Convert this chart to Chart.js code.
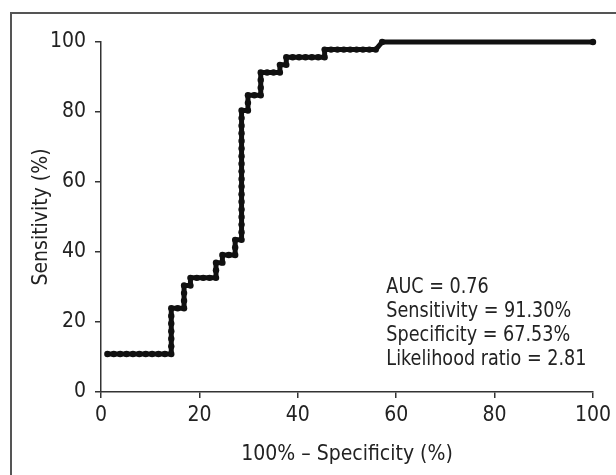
<!DOCTYPE html>
<html>
<head>
<meta charset="utf-8">
<script src="https://cdn.jsdelivr.net/npm/chart.js@4.4.1/dist/chart.umd.min.js"></script>
<style>
  html, body { margin: 0; padding: 0; background: #fff; }
  #wrap { width: 616px; height: 475px; }
</style>
</head>
<body>
<div id="wrap"><canvas id="chart" width="616" height="475"></canvas></div>
<script>
// ROC curve, as counts of false / true positives
var nNegative = 77;
var nPositive = 46;
var falsePos = [1, 2, 3, 4, 5, 6, 7, 8, 9, 10, 11,
    11, 11, 11, 11, 11, 11,
    12, 13, 13, 13, 13,
    14, 14,
    15, 16, 17, 18, 18, 18,
    19, 19, 20, 21, 21, 21,
    22, 22, 22, 22, 22, 22, 22, 22, 22, 22, 22, 22, 22, 22, 22, 22, 22, 22,
    23, 23, 23, 24, 25, 25, 25, 25,
    26, 27, 28, 28, 29, 29,
    30, 31, 32, 33, 34, 35, 35,
    36, 37, 38, 39, 40, 41, 42, 43,
    44, 77];
var truePos = [5, 5, 5, 5, 5, 5, 5, 5, 5, 5, 5,
    6, 7, 8, 9, 10, 11,
    11, 11, 12, 13, 14,
    14, 15,
    15, 15, 15, 15, 16, 17,
    17, 18, 18, 18, 19, 20,
    20, 21, 22, 23, 24, 25, 26, 27, 28, 29, 30, 31, 32, 33, 34, 35, 36, 37,
    37, 38, 39, 39, 39, 40, 41, 42,
    42, 42, 42, 43, 43, 44,
    44, 44, 44, 44, 44, 44, 45,
    45, 45, 45, 45, 45, 45, 45, 45,
    46, 46];

var axisTicks = [0, 20, 40, 60, 80, 100];
var xTitle = "100% \u2013 Specificity (%)";
var yTitle = "Sensitivity (%)";
var statsLines = ["AUC = 0.76", "Sensitivity = 91.30%", "Specificity = 67.53%", "Likelihood ratio = 2.81"];

var fontFamily = "'Liberation Sans Narrow', 'DejaVu Sans Condensed', 'Liberation Sans', sans-serif";
var ink = "#222";

var points = [];
for (var i = 0; i < falsePos.length; i++) {
    points.push({ x: falsePos[i] / nNegative * 100, y: truePos[i] / nPositive * 100 });
}

// white page with the grey frame line on the left and top
var framePlugin = {
    id: "frame",
    beforeDraw: function(chart) {
        var ctx = chart.ctx;
        ctx.save();
        ctx.fillStyle = "#fff";
        ctx.fillRect(0, 0, chart.width, chart.height);
        ctx.strokeStyle = "#555";
        ctx.lineWidth = 2;
        ctx.strokeRect(11, 13, chart.width + 20, chart.height + 20);
        ctx.restore();
    }
};

// the statistics block in the lower right of the plot (narrowed a bit, like the original type)
var statsPlugin = {
    id: "stats",
    afterDatasetsDraw: function(chart) {
        var ctx = chart.ctx;
        var x = chart.scales.x.getPixelForValue(58);
        var y = chart.scales.y.getPixelForValue(28.3);
        ctx.save();
        ctx.translate(x, y);
        ctx.scale(0.89, 1);
        ctx.fillStyle = ink;
        ctx.font = "22px " + fontFamily;
        ctx.textAlign = "left";
        ctx.textBaseline = "alphabetic";
        for (var i = 0; i < statsLines.length; i++) {
            ctx.fillText(statsLines[i], 0, i * 24);
        }
        ctx.restore();
    }
};

var ctx = document.getElementById("chart").getContext("2d");
var chart = new Chart(ctx, {
    type: "scatter",
    data: {
        datasets: [{
            data: points,
            showLine: true,
            borderColor: "#111",
            backgroundColor: "#111",
            borderWidth: 5,
            borderCapStyle: "round",
            borderJoinStyle: "round",
            pointRadius: 3.2,
            pointBorderWidth: 0,
            pointBackgroundColor: "#111",
            clip: false
        }]
    },
    options: {
        responsive: false,
        animation: false,
        layout: { padding: { top: 42, right: 19, left: 0, bottom: 0 } },
        plugins: {
            legend: { display: false },
            tooltip: { enabled: false }
        },
        scales: {
            x: {
                type: "linear",
                min: 0,
                max: 100,
                afterFit: function(scale) { scale.height = 83; },
                afterBuildTicks: function(scale) {
                    scale.ticks = axisTicks.map(function(v) { return { value: v }; });
                },
                grid: { drawOnChartArea: false, tickLength: 6, color: "#333", lineWidth: 1.5 },
                border: { color: "#333", width: 1.5 },
                ticks: { color: ink, padding: 5, maxRotation: 0, font: { family: fontFamily, size: 21 } },
                title: { display: true, text: xTitle, color: ink, padding: { bottom: 8 }, font: { family: fontFamily, size: 21 } }
            },
            y: {
                type: "linear",
                min: 0,
                max: 100,
                afterFit: function(scale) { scale.width = 101; },
                afterBuildTicks: function(scale) {
                    scale.ticks = axisTicks.map(function(v) { return { value: v }; });
                },
                grid: { drawOnChartArea: false, tickLength: 6, color: "#333", lineWidth: 1.5 },
                border: { color: "#333", width: 1.5 },
                ticks: { color: ink, padding: 9, font: { family: fontFamily, size: 21 } },
                title: { display: true, text: yTitle, color: ink, padding: { top: 29 }, font: { family: fontFamily, size: 21 } }
            }
        }
    },
    plugins: [framePlugin, statsPlugin]
});
</script>
</body>
</html>
